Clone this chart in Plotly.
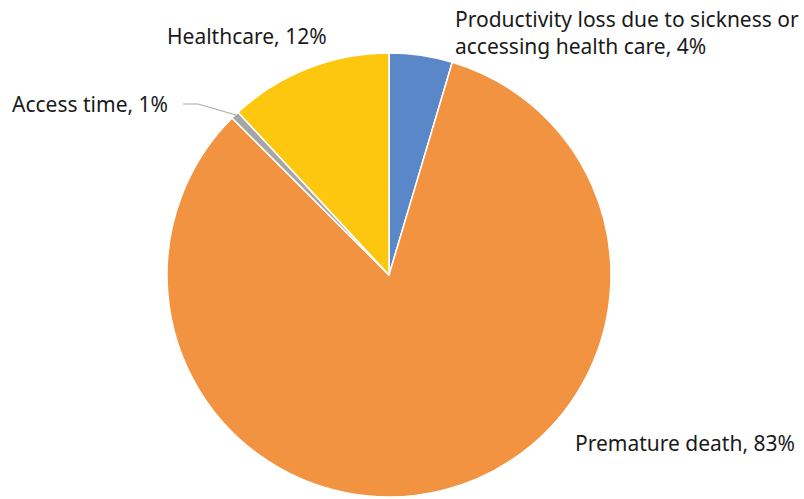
import plotly.graph_objects as go

categories = ["Productivity loss due to sickness or<br>accessing health care",
              "Premature death", "Access time", "Healthcare"]
values = [4.6, 82.9, 0.6, 11.9]
pct_labels = ["4%", "83%", "1%", "12%"]
colors = ["#5A87C7", "#F29342", "#A6A6A6", "#FDC60F"]

W, H = 804, 499

fig = go.Figure(go.Pie(
    labels=categories, values=values, sort=False, direction="clockwise",
    rotation=0, textinfo="none", hoverinfo="label+percent",
    marker=dict(colors=colors, line=dict(color="white", width=1.5)),
    domain=dict(x=[167 / W, 611 / W], y=[2 / H, 446 / H]),
    showlegend=False,
))

# label placement (pixel positions converted to paper coords)
label_pos = [(453, 33, "left"), (573, 443, "left"), (10, 104, "left"), (165, 36, "left")]
font = dict(family="Noto Sans, Open Sans, sans-serif", size=21, color="#1a1a1a")
for cat, pct, (px, py, anc) in zip(categories, pct_labels, label_pos):
    fig.add_annotation(x=px / W, y=1 - py / H, xref="paper", yref="paper",
                       text=f"{cat}, {pct}", showarrow=False, xanchor=anc,
                       yanchor="middle", align="left", font=font)

# leader line for the small slice
fig.add_shape(type="path", xref="paper", yref="paper",
              path=f"M {183/W} {1-104/H} L {198/W} {1-104/H} L {236/W} {1-115/H}",
              line=dict(color="#A6A6A6", width=1))

fig.update_layout(width=W, height=H, margin=dict(l=0, r=0, t=0, b=0),
                  paper_bgcolor="white", plot_bgcolor="white")
fig.write_html("out.html", config={"displayModeBar": False},
               post_script="document.body.style.margin='0';")
